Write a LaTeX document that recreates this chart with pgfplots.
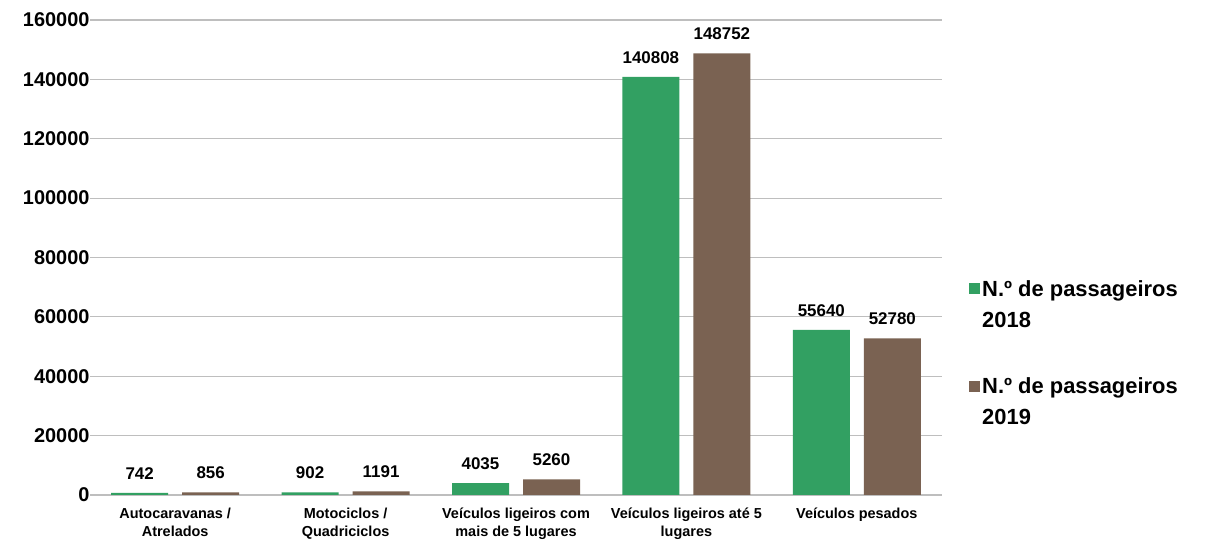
\documentclass[border=0pt]{standalone}
\usepackage{fontspec}
\setmainfont{Liberation Sans}
\usepackage{pgfplots}
\pgfplotsset{compat=1.18}
\definecolor{cgreen}{RGB}{50,160,98}
\definecolor{cbrown}{RGB}{122,98,82}
\definecolor{cgrid}{RGB}{190,190,190}
\begin{document}
\begin{tikzpicture}
\begin{axis}[
  scale only axis,
  width=852bp, height=475bp,
  ybar, bar width=57bp,
  ymin=0, ymax=160000,
  ytick={0,20000,40000,60000,80000,100000,120000,140000,160000},
  yticklabels={0,20000,40000,60000,80000,100000,120000,140000,160000},
  scaled y ticks=false,
  xmin=-0.5, xmax=4.5,
  xtick={0,1,2,3,4},
  xticklabels={{Autocaravanas /\\Atrelados},{Motociclos /\\Quadriciclos},{Veículos ligeiros com\\mais de 5 lugares},{Veículos ligeiros até 5\\lugares},{Veículos pesados}},
  xticklabel style={align=center, font=\fontsize{14.5}{18}\selectfont\bfseries, yshift=-5bp},
  yticklabel style={font=\fontsize{20}{21}\selectfont\bfseries, xshift=3bp},
  axis line style={draw=none},
  tick style={draw=none},
  ymajorgrids, grid style={cgrid, line width=1.2bp},
  point meta=explicit symbolic,
  nodes near coords,
  nodes near coords style={font=\fontsize{17}{18}\selectfont\bfseries, yshift=10bp},
  legend style={at={(1.0,0.322)}, anchor=west, xshift=27bp, draw=none, fill=none,
    font=\fontsize{22}{31}\selectfont\bfseries, row sep=56bp, inner sep=0pt,
    /tikz/every even column/.append style={column sep=5bp}},
  legend cell align=left,
  legend image code/.code={\fill[#1, draw=none] (0bp,-1bp) rectangle (11bp,10bp);},
]
\addplot[fill=cgreen, draw=none, bar shift=-35.5bp] coordinates {(0,742) [742] (1,902) [902] (2,4035) [4035] (3,140808) [140808] (4,55640) [55640]};
\addplot[fill=cbrown, draw=none, bar shift=35.5bp] coordinates {(0,856) [856] (1,1191) [1191] (2,5260) [5260] (3,148752) [148752] (4,52780) [52780]};
\addlegendentry{\begin{tabular}{@{}l@{}}N.º de passageiros\\2018\end{tabular}}
\addlegendentry{\begin{tabular}{@{}l@{}}N.º de passageiros\\2019\end{tabular}}
\end{axis}
\pgfresetboundingbox
\path ([xshift=-90bp,yshift=-49bp]current axis.south west) rectangle ([xshift=266bp,yshift=20bp]current axis.north east);
\end{tikzpicture}
\end{document}
